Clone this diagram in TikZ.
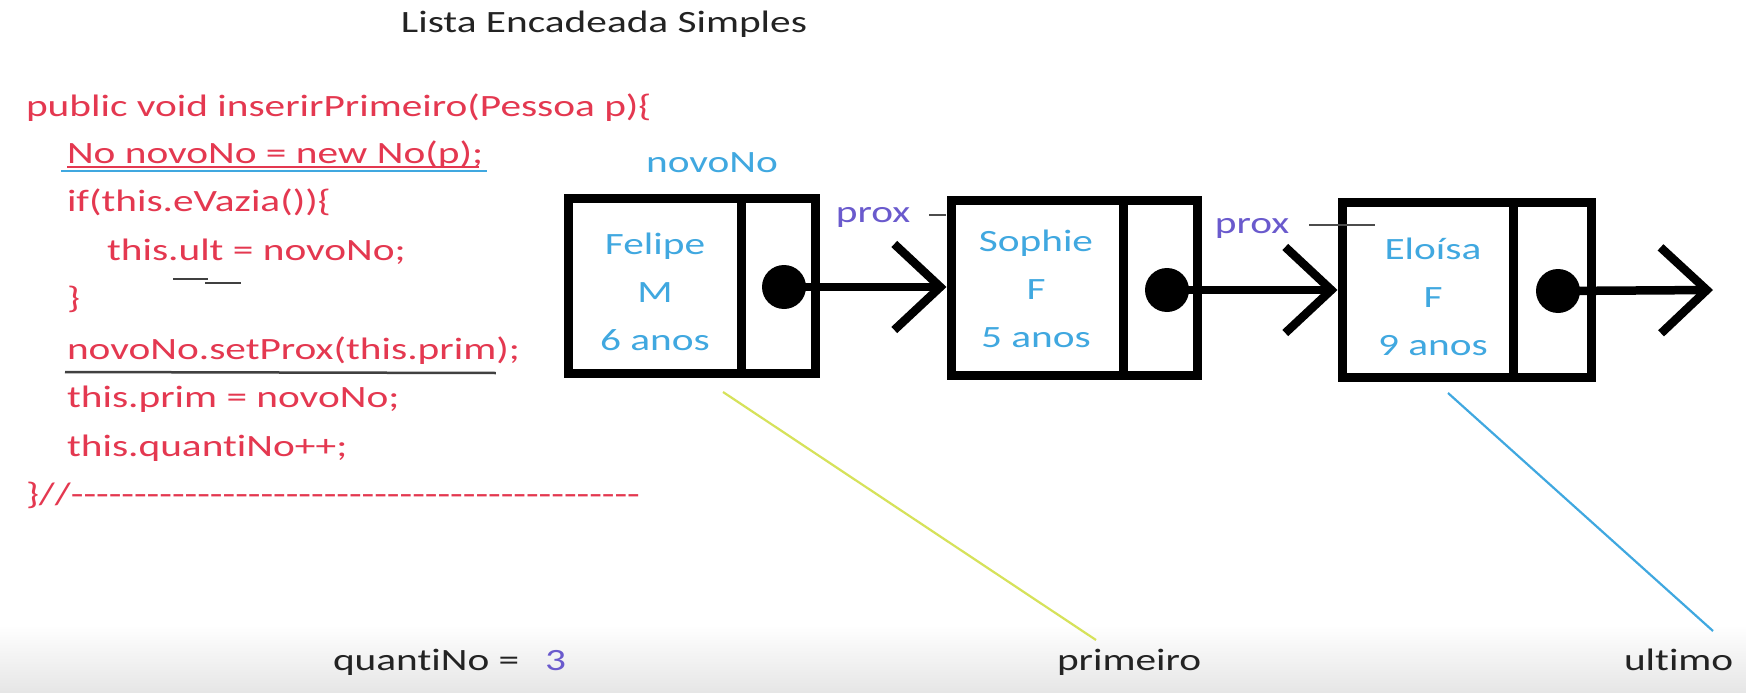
\documentclass[tikz,border=0pt]{standalone}
\usepackage{fontspec}
\usetikzlibrary{arrows.meta,calc}
\newfontfamily\calfont[Ligatures={NoCommon,NoRare,NoDiscretionary}]{Carlito}
\newcommand{\wide}[1]{\scalebox{1.333}[1]{#1}}
\definecolor{codered}{RGB}{228,56,80}
\definecolor{lblue}{RGB}{64,168,224}
\definecolor{purp}{RGB}{106,90,205}
\definecolor{ylw}{RGB}{214,226,90}
\definecolor{ink}{RGB}{35,35,35}
\begin{document}
\begin{tikzpicture}[x=1pt,y=-1pt,
  txt/.style={font=\calfont\fontsize{31}{48}\selectfont, inner sep=0pt, outer sep=0pt},
  code/.style={txt, text=codered, anchor=base west},
  lbl/.style={txt, anchor=base},
  boxtxt/.style={txt, text=lblue, align=center},
  cell/.style={draw, line width=9pt, minimum height=175pt, inner sep=0pt, outer sep=4.5pt},
  dotnode/.style={circle, fill=black, minimum size=44pt, inner sep=0pt},
  ptr/.style={line width=8.5pt, -{Straight Barb[length=46pt,width=86pt,sharp]}},
  penmark/.style={line width=2.5pt, draw=black!75},
  ref/.style={line width=2.2pt}
]
\useasboundingbox (0,0) rectangle (1746,693);
\fill[white] (0,0) rectangle (1746,693);
\shade[top color=white, bottom color=black!10] (0,625) rectangle (1746,693);

% title
\node[lbl, text=ink] (title) at (604,33) {\wide{Lista Encadeada Simples}};

% code
\node[code] (l1) at (26,116) {\wide{public void inserirPrimeiro(Pessoa p)\{}};
\node[code] (l2) at (67,163) {\wide{No novoNo = new No(p);}};
\node[code] (l3) at (67,211) {\wide{if(this.eVazia())\{}};
\node[code] (l4) at (107,260) {\wide{this.ult = novoNo;}};
\node[code] (l5) at (67,308) {\wide{\}}};
\node[code] (l6) at (67,359) {\wide{novoNo.setProx(this.prim);}};
\node[code] (l7) at (67,407) {\wide{this.prim = novoNo;}};
\node[code] (l8) at (67,456) {\wide{this.quantiNo++;}};
\node[code] (l9) at (26,504) {\wide{\}//---------------------------------------------}};

% underlines
\draw[line width=2pt, codered] ($(l2.base west)+(0,4)$) -- ($(l2.base east)+(-4,4)$);
\draw[line width=2.2pt, lblue] ($(l2.base west)+(-6,8)$) -- ($(l2.base east)+(4,8)$);
\draw[penmark] ($(l4.base west)+(66,19)$) -- ($(l4.base west)+(101,19)$);
\draw[penmark] ($(l4.base west)+(98,23)$) -- ($(l4.base west)+(134,23)$);
\draw[penmark] ($(l6.base west)+(-2,13)$) -- ($(l6.base east)+(-24,14)$);

% nodes of the list
\node[cell, minimum width=173pt] (b1) at (654.5,285.5) {};
\node[cell, minimum width=74pt] (p1) at (778,285.5) {};
\node[cell, minimum width=172pt] (b2) at (1037,287.5) {};
\node[cell, minimum width=74pt] (p2) at (1160,287.5) {};
\node[cell, minimum width=171pt] (b3) at (1427.5,289.5) {};
\node[cell, minimum width=78pt] (p3) at (1552,289.5) {};

\node[boxtxt] (t1) at (655,292) {\wide{Felipe}\\\wide{M}\\\wide{6 anos}};
\node[boxtxt] (t2) at (1036,289) {\wide{Sophie}\\\wide{F}\\\wide{5 anos}};
\node[boxtxt] (t3) at (1433,297) {\wide{Eloísa}\\\wide{F}\\\wide{9 anos}};

\node[dotnode] (d1) at (784,287) {};
\node[dotnode] (d2) at (1167,290) {};
\node[dotnode] (d3) at (1558,291) {};
\coordinate (end3) at (1713,290);

\draw[ptr] (d1.center) -- (d1.center -| b2.west);
\draw[ptr] (d2.center) -- (d2.center -| b3.west);
\draw[ptr] (d3.center) -- (end3);

% labels
\node[lbl, text=lblue] (nv) at (712,172) {\wide{novoNo}};
\node[lbl, text=purp] (px1) at (873,222) {\wide{prox}};
\node[lbl, text=purp] (px2) at (1252,233) {\wide{prox}};
\draw[line width=2pt, black!70] ($(px1.base east)+(19,-7)$) -- ($(px1.base east)+(36,-7)$);
\draw[line width=2pt, black!70] ($(px2.base east)+(20,-8)$) -- ($(px2.base east)+(86,-8)$);

% bottom
\node[code, text=ink] (qn) at (333,670) {\wide{quantiNo =}};
\node[code, text=purp] (qv) at (545,670) {\wide{3}};
\node[code, text=ink] (prim) at (1057,670) {\wide{primeiro}};
\node[code, text=ink] (ult) at (1624,670) {\wide{ultimo}};

\coordinate (ya) at (723,392);
\coordinate (yb) at (1096,640);
\coordinate (ba) at (1448,393);
\coordinate (bb) at (1713,631);
\draw[ref, ylw] (ya) -- (yb);
\draw[ref, lblue] (ba) -- (bb);
\end{tikzpicture}
\end{document}
